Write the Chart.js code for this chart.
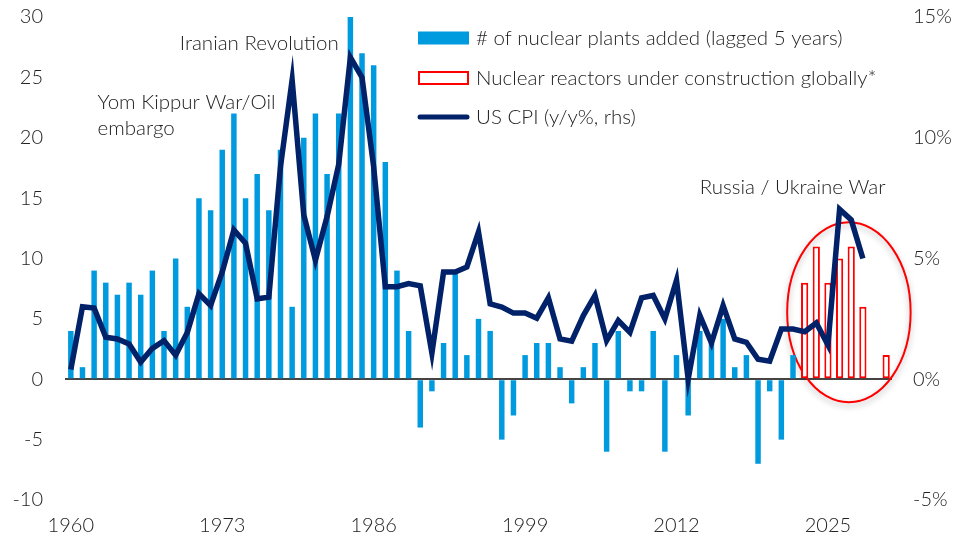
<!DOCTYPE html>
<html>
<head>
<meta charset="utf-8">
<script src="https://cdn.jsdelivr.net/npm/chart.js@4.4.1/dist/chart.umd.min.js"></script>
<style>
  html, body { margin: 0; padding: 0; background: #fff; }
  #wrap { width: 955px; height: 544px; }
</style>
</head>
<body>
<div id="wrap"><canvas id="grafico" width="955" height="544"></canvas></div>
<script>
// categorias (anos) e series
const anos = [1960, 1961, 1962, 1963, 1964, 1965, 1966, 1967, 1968, 1969,
  1970, 1971, 1972, 1973, 1974, 1975, 1976, 1977, 1978, 1979,
  1980, 1981, 1982, 1983, 1984, 1985, 1986, 1987, 1988, 1989,
  1990, 1991, 1992, 1993, 1994, 1995, 1996, 1997, 1998, 1999,
  2000, 2001, 2002, 2003, 2004, 2005, 2006, 2007, 2008, 2009,
  2010, 2011, 2012, 2013, 2014, 2015, 2016, 2017, 2018, 2019,
  2020, 2021, 2022, 2023, 2024, 2025, 2026, 2027, 2028, 2029, 2030];

// usinas nucleares adicionadas (defasagem 5 anos), 1960-2022
const usinasAdicionadas = [4, 1, 9, 8, 7, 8, 7, 9, 4, 10,
  6, 15, 14, 19, 22, 15, 17, 14, 19, 6,
  20, 22, 17, 22, 30, 27, 26, 18, 9, 4,
  -4, -1, 3, 9, 2, 5, 4, -5, -3, 2,
  3, 3, 1, -2, 1, 3, -6, 4, -1, -1,
  4, -6, 2, -3, 4, 3, 5, 1, 2, -7,
  -1, -5, 2];

// reatores em construcao
const anosReatores = [2023, 2024, 2025, 2026, 2027, 2028, 2030];
const reatoresConstrucao = [8, 11, 8, 10, 11, 6, 2];

// CPI EUA y/y %, 1960-2028
const cpiEua = [0.4, 3.0, 2.95, 1.74, 1.67, 1.46, 0.71, 1.28, 1.6, 1.0,
  1.94, 3.54, 3.06, 4.44, 6.18, 5.63, 3.33, 3.4, 8.8, 12.4,
  6.8, 4.93, 6.74, 8.9, 13.33, 12.5, 8.8, 3.83, 3.83, 3.96,
  3.87, 1.08, 4.44, 4.44, 4.65, 6.1, 3.12, 2.99, 2.74, 2.74,
  2.53, 3.37, 1.67, 1.58, 2.64, 3.47, 1.6, 2.43, 1.94, 3.37,
  3.47, 2.5, 4.1, 0, 2.65, 1.5, 3.05, 1.67, 1.53, 0.83,
  0.75, 2.08, 2.08, 1.97, 2.33, 1.42, 7.04, 6.6, 5.0];

const rotulosAnos = [1960, 1973, 1986, 1999, 2012, 2025];

const fonte = 'Lato, "Open Sans", sans-serif';
const pesoFonte = '300';
const corTexto = '#222222';
const azul = '#009ADE';
const vermelho = '#FF0000';
const marinho = '#012169';

const serieUsinas = anos.map((a, i) => i < usinasAdicionadas.length ? usinasAdicionadas[i] : null);
const serieReatores = anos.map(a => {
  const k = anosReatores.indexOf(a);
  return k >= 0 ? reatoresConstrucao[k] : null;
});
const serieCpi = anos.map((a, i) => i < cpiEua.length ? cpiEua[i] : null);

// elipse vermelha em volta dos reatores
const pluginElipse = {
  id: 'elipse',
  beforeDatasetsDraw(chart) {
    const { ctx, scales } = chart;
    const x = scales.x, y = scales.y;
    const passo = x.getPixelForValue(1) - x.getPixelForValue(0);
    const cx = x.getPixelForValue(66.8);
    const cy = y.getPixelForValue(5.55);
    const rx = passo * 5.3;
    const ry = y.getPixelForValue(0) - y.getPixelForValue(7.45);
    ctx.save();
    ctx.shadowColor = 'rgba(0,0,0,0.3)';
    ctx.shadowBlur = 6;
    ctx.shadowOffsetY = 3;
    ctx.strokeStyle = vermelho;
    ctx.lineWidth = 2;
    ctx.beginPath();
    ctx.ellipse(cx, cy, rx, ry, 0, 0, Math.PI * 2);
    ctx.stroke();
    ctx.restore();
  }
};

// textos dos eventos e legenda
const pluginTextos = {
  id: 'textos',
  afterDraw(chart) {
    const { ctx, scales } = chart;
    const x = scales.x, y = scales.y;
    ctx.save();
    ctx.font = pesoFonte + ' 20.5px ' + fonte;
    ctx.fillStyle = corTexto;
    ctx.textBaseline = 'middle';
    ctx.textAlign = 'left';
    ctx.fillText('Iranian Revolution', x.getPixelForValue(9.35), y.getPixelForValue(27.8));
    ctx.fillText('Yom Kippur War/Oil', x.getPixelForValue(2.3), y.getPixelForValue(22.9));
    ctx.fillText('embargo', x.getPixelForValue(2.3), y.getPixelForValue(20.8));
    ctx.fillText('Russia / Ukraine War', x.getPixelForValue(54), y.getPixelForValue(15.9));

    // legenda
    const lx = 418, lw = 51, tx = 476;
    const itens = chart.data.datasets;
    const ys = [38, 78, 117];
    ctx.fillStyle = itens[1].backgroundColor;
    ctx.fillRect(lx, ys[0] - 6.5, lw, 13);
    ctx.fillStyle = '#fff';
    ctx.fillRect(lx, ys[1] - 7, lw, 14);
    ctx.strokeStyle = itens[2].borderColor;
    ctx.lineWidth = 2;
    ctx.strokeRect(lx + 1, ys[1] - 6, lw - 2, 12);
    ctx.strokeStyle = itens[0].borderColor;
    ctx.lineWidth = 5;
    ctx.lineCap = 'round';
    ctx.beginPath();
    ctx.moveTo(lx + 2, ys[2]);
    ctx.lineTo(lx + lw - 2, ys[2]);
    ctx.stroke();
    ctx.fillStyle = corTexto;
    itens.forEach((d, i) => {
      const pos = [2, 0, 1][i];
      ctx.fillText(d.label, tx, ys[pos]);
    });
    ctx.restore();
  }
};

// tira o espaco extra que o chart.js reserva para os rotulos do eixo vertical
const semPaddingVertical = (largura) => (s) => {
  s.width = largura;
  s.paddingTop = 0;
  s.paddingBottom = 0;
};

const fonteTicks = { family: fonte, size: 20, weight: pesoFonte };

new Chart(document.getElementById('grafico').getContext('2d'), {
  type: 'bar',
  data: {
    labels: anos,
    datasets: [
      {
        type: 'line',
        label: 'US CPI (y/y%, rhs)',
        data: serieCpi,
        yAxisID: 'y2',
        borderColor: marinho,
        borderWidth: 5.5,
        borderJoinStyle: 'miter',
        pointRadius: 0,
        tension: 0,
        order: 0
      },
      {
        label: '# of nuclear plants added (lagged 5 years)',
        data: serieUsinas,
        yAxisID: 'y',
        backgroundColor: azul,
        grouped: false,
        barPercentage: 0.47,
        categoryPercentage: 1,
        order: 2
      },
      {
        label: 'Nuclear reactors under construction globally*',
        data: serieReatores,
        yAxisID: 'y',
        backgroundColor: '#ffffff',
        borderColor: vermelho,
        borderWidth: 2,
        borderSkipped: false,
        grouped: false,
        barPercentage: 0.62,
        categoryPercentage: 1,
        order: 1
      }
    ]
  },
  options: {
    responsive: false,
    animation: false,
    layout: { padding: { top: 17, left: 0, right: 0, bottom: 0 } },
    plugins: {
      legend: { display: false },
      tooltip: { enabled: false }
    },
    scales: {
      x: {
        grid: { display: false, drawTicks: false },
        border: { display: false },
        ticks: {
          autoSkip: false,
          maxRotation: 0,
          padding: 14,
          color: corTexto,
          font: fonteTicks,
          callback: function (v) {
            const a = this.getLabelForValue(v);
            return rotulosAnos.includes(Number(a)) ? a : '';
          }
        },
        afterFit: (s) => { s.height = 44; }
      },
      y: {
        position: 'left',
        min: -10,
        max: 30,
        ticks: {
          stepSize: 5,
          padding: 22,
          color: corTexto,
          font: fonteTicks
        },
        grid: {
          drawTicks: false,
          lineWidth: 2,
          color: (c) => c.tick && c.tick.value === 0 ? '#444444' : 'rgba(0,0,0,0)'
        },
        border: { display: false },
        afterFit: semPaddingVertical(65)
      },
      y2: {
        position: 'right',
        min: -5,
        max: 15,
        ticks: {
          stepSize: 5,
          padding: 21,
          color: corTexto,
          font: fonteTicks,
          callback: (v) => v + '%'
        },
        grid: { display: false, drawTicks: false },
        border: { display: false },
        afterFit: semPaddingVertical(63)
      }
    }
  },
  plugins: [pluginElipse, pluginTextos]
});
</script>
</body>
</html>
